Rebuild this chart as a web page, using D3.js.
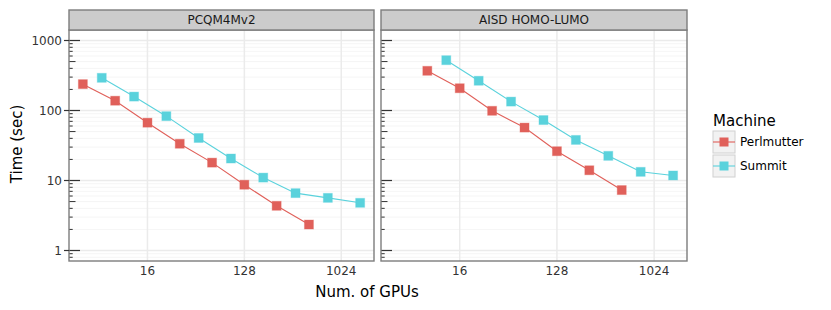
<!DOCTYPE html>
<html>
<head>
<meta charset="utf-8">
<script src="https://cdn.jsdelivr.net/npm/d3@7"></script>
<style>
  html, body { margin: 0; padding: 0; background: #fff; }
  svg text { font-family: "DejaVu Sans", sans-serif; }
</style>
</head>
<body>
<svg id="chart" width="831" height="310"></svg>
<script>
// ---- data ----
const facets = ["PCQM4Mv2", "AISD HOMO-LUMO"];
const machines = ["Perlmutter", "Summit"];
const machineColors = ["#E0605A", "#5AD2DC"];

const gpusPerlmutterPCQM = [4, 8, 16, 32, 64, 128, 256, 512];
const timePerlmutterPCQM = [238, 138, 67, 33.5, 18, 8.7, 4.35, 2.35];
const gpusSummitPCQM = [6, 12, 24, 48, 96, 192, 384, 768, 1536];
const timeSummitPCQM = [293, 158, 83, 40.5, 20.6, 11, 6.6, 5.65, 4.8];

const gpusPerlmutterAISD = [8, 16, 32, 64, 128, 256, 512];
const timePerlmutterAISD = [369, 208, 99, 57, 26.2, 14, 7.3];
const gpusSummitAISD = [12, 24, 48, 96, 192, 384, 768, 1536];
const timeSummitAISD = [523, 266, 134, 73, 38, 22.5, 13.3, 11.8];

const xTicks = [16, 128, 1024];
const xTickLabels = ["16", "128", "1024"];
const yTicks = [1, 10, 100, 1000];
const yTickLabels = ["1", "10", "100", "1000"];

const seriesByFacet = [
  [ {m: 0, x: gpusPerlmutterPCQM, y: timePerlmutterPCQM},
    {m: 1, x: gpusSummitPCQM, y: timeSummitPCQM} ],
  [ {m: 0, x: gpusPerlmutterAISD, y: timePerlmutterAISD},
    {m: 1, x: gpusSummitAISD, y: timeSummitAISD} ]
];

// ---- layout ----
const svg = d3.select("#chart");
const panelTop = 30, panelBottom = 261, stripTop = 10;
const panelX = [[69, 374], [381, 687]];
const borderColor = "#7d7d7d";

// expansions (5%) in log space
const xAll = [].concat(gpusPerlmutterPCQM, gpusSummitPCQM, gpusPerlmutterAISD, gpusSummitAISD);
const lx0 = Math.log2(d3.min(xAll)), lx1 = Math.log2(d3.max(xAll));
const ex = (lx1 - lx0) * 0.05;
const xDomain = [Math.pow(2, lx0 - ex), Math.pow(2, lx1 + ex)];
const ly0 = 0, ly1 = 3, ey = (ly1 - ly0) * 0.05;
const yDomain = [Math.pow(10, ly0 - ey), Math.pow(10, ly1 + ey)];

const y = d3.scaleLog().domain(yDomain).range([panelBottom, panelTop]);

// minor y values 2..9 per decade
const yMinor = [];
for (let d = -1; d <= 3; d++) for (let k = 2; k <= 9; k++) {
  const v = k * Math.pow(10, d);
  if (v >= yDomain[0] && v <= yDomain[1]) yMinor.push({v, k});
}

facets.forEach((name, fi) => {
  const [x0, x1] = panelX[fi];
  const x = d3.scaleLog().base(2).domain(xDomain).range([x0, x1]);
  const g = svg.append("g");

  // panel background
  g.append("rect").attr("x", x0).attr("y", panelTop).attr("width", x1 - x0).attr("height", panelBottom - panelTop)
    .attr("fill", "#fff");

  // minor horizontal grid
  g.selectAll(".ymin").data(yMinor).enter().append("line")
    .attr("x1", x0).attr("x2", x1)
    .attr("y1", d => y(d.v)).attr("y2", d => y(d.v))
    .attr("stroke", "#f3f3f3").attr("stroke-width", 0.8);
  // major horizontal grid
  g.selectAll(".ymaj").data(yTicks).enter().append("line")
    .attr("x1", x0).attr("x2", x1)
    .attr("y1", d => y(d)).attr("y2", d => y(d))
    .attr("stroke", "#ebebeb").attr("stroke-width", 1.5);
  // vertical grid
  g.selectAll(".xmaj").data(xTicks).enter().append("line")
    .attr("x1", d => x(d)).attr("x2", d => x(d))
    .attr("y1", panelTop).attr("y2", panelBottom)
    .attr("stroke", "#ebebeb").attr("stroke-width", 1.5);

  // log ticks inside left border
  g.selectAll(".lt").data(yMinor).enter().append("line")
    .attr("x1", x0).attr("x2", d => x0 + (d.k === 5 ? 6.5 : 3.7))
    .attr("y1", d => y(d.v)).attr("y2", d => y(d.v))
    .attr("stroke", "#333").attr("stroke-width", 1);
  g.selectAll(".ltm").data(yTicks).enter().append("line")
    .attr("x1", x0).attr("x2", x0 + 11)
    .attr("y1", d => y(d)).attr("y2", d => y(d))
    .attr("stroke", "#333").attr("stroke-width", 1.2);

  // series
  seriesByFacet[fi].forEach(s => {
    const pts = s.x.map((v, i) => [x(v), y(s.y[i])]);
    g.append("path").attr("d", d3.line()(pts))
      .attr("fill", "none").attr("stroke", machineColors[s.m]).attr("stroke-width", 1.1);
    g.selectAll(null).data(pts).enter().append("rect")
      .attr("x", d => d[0] - 4.5).attr("y", d => d[1] - 4.5)
      .attr("width", 9).attr("height", 9)
      .attr("fill", machineColors[s.m])
      .attr("stroke", machineColors[s.m]).attr("stroke-opacity", 0.35).attr("stroke-width", 1);
  });

  // panel border
  g.append("rect").attr("x", x0).attr("y", panelTop).attr("width", x1 - x0).attr("height", panelBottom - panelTop)
    .attr("fill", "none").attr("stroke", borderColor).attr("stroke-width", 1.4);

  // strip
  g.append("rect").attr("x", x0).attr("y", stripTop).attr("width", x1 - x0).attr("height", panelTop - stripTop)
    .attr("fill", "#cccccc").attr("stroke", borderColor).attr("stroke-width", 1.4);
  g.append("text").attr("x", (x0 + x1) / 2).attr("y", (stripTop + panelTop) / 2)
    .attr("dy", "0.36em").attr("text-anchor", "middle").attr("font-size", 12).attr("fill", "#1a1a1a")
    .text(name);

  // x tick labels
  g.selectAll(".xl").data(xTicks).enter().append("text")
    .attr("x", d => x(d)).attr("y", 271).attr("dy", "0.36em")
    .attr("text-anchor", "middle").attr("font-size", 12).attr("fill", "#333")
    .text((d, i) => xTickLabels[i]);

  if (fi === 0) {
    g.selectAll(".yt").data(yTicks).enter().append("line")
      .attr("x1", x0 - 5).attr("x2", x0)
      .attr("y1", d => y(d)).attr("y2", d => y(d))
      .attr("stroke", "#333").attr("stroke-width", 1.2);
    g.selectAll(".yl").data(yTicks).enter().append("text")
      .attr("x", 62).attr("y", d => y(d)).attr("dy", "0.36em")
      .attr("text-anchor", "end").attr("font-size", 12).attr("fill", "#333")
      .text((d, i) => yTickLabels[i]);
  }
});

// axis titles
svg.append("text").attr("x", 367).attr("y", 292).attr("dy", "0.36em")
  .attr("text-anchor", "middle").attr("font-size", 15).attr("fill", "#000").text("Num. of GPUs");
svg.append("text").attr("transform", "translate(17,144) rotate(-90)").attr("dy", "0.36em")
  .attr("text-anchor", "middle").attr("font-size", 15).attr("fill", "#000").text("Time (sec)");

// legend
const lg = svg.append("g");
lg.append("text").attr("x", 713).attr("y", 126).attr("font-size", 15).attr("fill", "#000").text("Machine");
machines.forEach((m, i) => {
  const ky = 131 + i * 24;
  lg.append("rect").attr("x", 713).attr("y", ky).attr("width", 22).attr("height", 22)
    .attr("fill", "#f2f2f2").attr("stroke", "#d0d0d0").attr("stroke-width", 1);
  lg.append("line").attr("x1", 713).attr("x2", 735).attr("y1", ky + 11).attr("y2", ky + 11)
    .attr("stroke", machineColors[i]).attr("stroke-width", 1.1);
  lg.append("rect").attr("x", 724 - 4.5).attr("y", ky + 11 - 4.5).attr("width", 9).attr("height", 9)
    .attr("fill", machineColors[i]);
  lg.append("text").attr("x", 740).attr("y", ky + 11).attr("dy", "0.36em")
    .attr("font-size", 12).attr("fill", "#000").text(m);
});
</script>
</body>
</html>
